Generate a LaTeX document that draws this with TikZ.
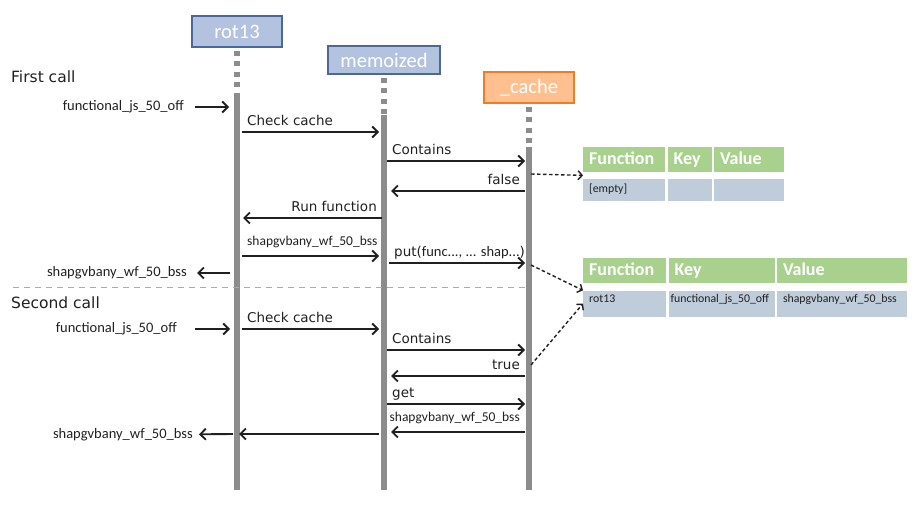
\documentclass[tikz,border=0pt]{standalone}
\usepackage{fontspec}
\setmainfont{Carlito}
\newfontfamily\comicfont{DejaVu Sans}
\usetikzlibrary{arrows.meta,positioning}
\definecolor{headfill}{HTML}{B3C3DF}
\definecolor{headline}{HTML}{4A6898}
\definecolor{cachefill}{HTML}{FFBF8E}
\definecolor{cacheline}{HTML}{F27C26}
\definecolor{lifegray}{HTML}{8C8C8C}
\definecolor{ink}{HTML}{202020}
\definecolor{hdrgreen}{HTML}{A9D18E}
\definecolor{rowblue}{HTML}{BFCCDA}
\definecolor{sepred}{HTML}{E49494}
\newcommand{\fs}[1]{\fontsize{#1}{#1}\selectfont}
\tikzset{
  head/.style={draw=headline, fill=headfill, line width=1.2pt, text=white, font=\fs{20.5}, minimum height=31pt, inner sep=0pt},
  cachehead/.style={head, draw=cacheline, fill=cachefill},
  dotline/.style={lifegray, line width=6pt, dash pattern=on 5pt off 5.5pt},
  lifeline/.style={lifegray, line width=6pt},
  call/.style={ink, line width=1.9pt, -{Straight Barb[length=5.5pt,width=11pt]}},
  link/.style={ink, line width=1.4pt, dash pattern=on 3.5pt off 2.5pt, -{Straight Barb[length=4pt,width=9pt]}},
  sep/.style={sepred, line width=0.9pt, dash pattern=on 6pt off 5pt},
  lbl/.style={font=\comicfont\fs{13.5}, text=ink, inner sep=0pt, yshift=6.5pt},
  vlbl/.style={font=\fs{13.5}, text=ink, inner sep=0pt, yshift=10.5pt},
  ext/.style={font=\fs{14.5}, text=ink, inner sep=0pt, anchor=east},
  phase/.style={font=\comicfont\fs{15.5}, text=ink, inner sep=0pt, anchor=base west},
  hcell/.style={fill=hdrgreen, text=white, font=\bfseries\fs{18}, minimum height=25pt, text height=12pt, text depth=3pt, inner xsep=6pt, inner ysep=0pt, align=left},
  rcell/.style={fill=rowblue, text=ink, font=\fs{11.8}, inner xsep=6pt, inner ysep=0pt, align=left},
}
\newcommand{\msgr}[6]{%
  \coordinate (#1-s) at (#3,#2); \coordinate (#1-e) at (#4,#2);
  \draw[call] (#1-s) -- (#1-e);
  \node[#5, anchor=base west, xshift=5pt] (#1-l) at (#1-s) {#6};}
\newcommand{\msgl}[6]{%
  \coordinate (#1-s) at (#3,#2); \coordinate (#1-e) at (#4,#2);
  \draw[call] (#1-s) -- (#1-e);
  \node[#5, anchor=base east, xshift=-5pt] (#1-l) at (#1-s) {#6};}

\begin{document}
\begin{tikzpicture}[x=1pt,y=-1pt]
  \useasboundingbox (0,0) rectangle (921,505);
  % lifelines
  \node[head, minimum width=90pt] (rot13) at (237,31.5) {rot13};
  \node[head, minimum width=112pt, minimum height=28pt] (memo) at (384,60) {memoized};
  \node[cachehead, minimum width=90pt] (cache) at (529,87.5) {\_cache};
  \foreach \who/\ya in {rot13/96, memo/115, cache/147} {
    \coordinate (\who-act) at (\who.south |- 0,\ya);
    \coordinate (\who-end) at (\who.south |- 0,490);
    \draw[dotline] ([yshift=-3pt]\who.south) -- (\who-act);
    \draw[lifeline] (\who-act) -- (\who-end);
  }

  \node[phase] (first) at (11,83) {First call};
  \node[ext] (in1) at (184,107) {functional\_js\_50\_off};
  \coordinate (in1-e) at (229,107);
  \draw[call, shorten <=11pt] (in1) -- (in1-e);
  \msgr{cc1}{132}{242}{379}{lbl}{Check cache}
  \msgr{ct1}{161}{387}{525}{lbl}{Contains}
  \msgl{fa}{191}{525}{391}{lbl}{false}
  \msgl{run}{218}{382}{243}{lbl}{Run function}
  \msgr{rv1}{256}{242}{379}{vlbl}{shapgvbany\_wf\_50\_bss}
  \msgr{put}{263}{389}{525}{lbl}{put({\normalfont\fs{14.5}func..., ... shap...})}
  \node[ext] (out1) at (187,273) {shapgvbany\_wf\_50\_bss};
  \coordinate (out1-s) at (230,273);
  \draw[call, shorten >=10pt] (out1-s) -- (out1);

  \coordinate (sep-w) at (13,287);
  \draw[sep] (sep-w) -- (sep-w -| cache-end);

  \node[phase] (second) at (11,308) {Second call};
  \node[ext] (in2) at (177,329) {functional\_js\_50\_off};
  \coordinate (in2-e) at (230,329);
  \draw[call, shorten <=18pt] (in2) -- (in2-e);
  \msgr{cc2}{329}{242}{379}{lbl}{Check cache}
  \msgr{ct2}{350}{387}{525}{lbl}{Contains}
  \msgl{tr}{376}{525}{391}{lbl}{true}
  \msgr{get}{404}{387}{525}{lbl}{get}
  \msgl{rv2}{432}{525}{391}{vlbl}{shapgvbany\_wf\_50\_bss}
  \coordinate (ret-s) at (379,434);
  \coordinate (ret-e) at (239,434);
  \draw[call] (ret-s) -- (ret-e);
  \node[ext] (out2) at (193,435) {shapgvbany\_wf\_50\_bss};
  \coordinate (out2-s) at (233,434);
  \draw[call, shorten >=6pt] (out2-s) -- (out2);

  % cache tables
  \node[hcell, text width=70pt, anchor=north west] (t1h1) at (583,147) {Function};
  \node[hcell, text width=32pt, right=2pt of t1h1] (t1h2) {Key};
  \node[hcell, text width=58pt, right=2pt of t1h2] (t1h3) {Value};
  \node[rcell, text width=70pt, minimum height=22pt, below=6pt of t1h1] (t1r1) {[empty]};
  \node[rcell, text width=32pt, minimum height=22pt, below=6pt of t1h2] (t1r2) {};
  \node[rcell, text width=58pt, minimum height=22pt, below=6pt of t1h3] (t1r3) {};

  \node[hcell, text width=71pt, anchor=north west] (t2h1) at (583,258) {Function};
  \node[hcell, text width=94pt, right=2pt of t2h1] (t2h2) {Key};
  \node[hcell, text width=118pt, right=2pt of t2h2] (t2h3) {Value};
  \node[rcell, text width=71pt, minimum height=26pt, text height=8pt, text depth=10pt, below=7pt of t2h1] (t2r1) {rot13};
  \node[rcell, text width=102pt, inner xsep=2pt, minimum height=26pt, text height=8pt, text depth=11pt, below=7pt of t2h2] (t2r2) {functional\_js\_50\_off};
  \node[rcell, text width=118pt, minimum height=26pt, text height=8pt, text depth=11pt, below=7pt of t2h3] (t2r3) {shapgvbany\_wf\_50\_bss};

  \coordinate (lk1) at (531,174);
  \coordinate (lk2) at (531,265);
  \coordinate (lk3) at (531,365);
  \draw[link] (lk1) -- ([yshift=3pt]t1r1.north west);
  \draw[link] (lk2) -- (t2r1.north west);
  \draw[link] (lk3) -- (t2r1.west);
\end{tikzpicture}
\end{document}
